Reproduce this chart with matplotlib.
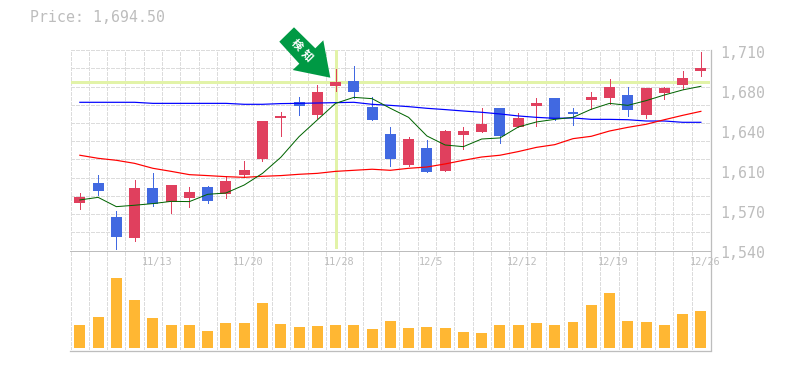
import matplotlib.pyplot as plt
from matplotlib.patches import Polygon, Rectangle

# datos
opens = [1580.2, 1597.2, 1568.3, 1550.5, 1593.0, 1581.1, 1584.5, 1593.8, 1587.9, 1604.0, 1617.6, 1652.5,
         1666.1, 1655.0, 1679.7, 1683.9, 1661.8, 1638.9, 1612.5, 1627.0, 1607.4, 1638.0, 1640.6, 1661.0,
         1644.8, 1662.7, 1669.5, 1657.6, 1667.8, 1669.5, 1672.0, 1655.0, 1673.7, 1680.5, 1692.4]
closes = [1585.3, 1590.4, 1551.3, 1593.0, 1579.4, 1595.5, 1589.6, 1581.9, 1598.9, 1608.3, 1649.9, 1654.2,
          1662.7, 1674.6, 1683.1, 1674.6, 1650.8, 1617.6, 1634.6, 1606.6, 1641.4, 1641.4, 1647.4, 1637.2,
          1652.5, 1665.2, 1651.6, 1655.9, 1670.3, 1678.8, 1659.3, 1678.0, 1678.0, 1686.5, 1695.0]
highs = [1588.7, 1604.0, 1573.4, 1599.8, 1605.7, 1595.5, 1593.8, 1594.7, 1603.2, 1615.9, 1649.9, 1657.6,
         1670.3, 1680.5, 1694.1, 1696.7, 1670.3, 1644.8, 1636.3, 1633.8, 1642.3, 1644.8, 1661.0, 1661.0,
         1656.7, 1669.5, 1669.5, 1661.0, 1674.6, 1685.6, 1678.8, 1678.0, 1678.8, 1692.4, 1708.6]
lows = [1575.1, 1587.0, 1540.0, 1547.9, 1577.7, 1571.7, 1576.8, 1580.2, 1584.5, 1602.3, 1615.9, 1637.2,
        1655.0, 1652.5, 1675.4, 1669.5, 1650.8, 1611.7, 1611.7, 1606.6, 1607.4, 1626.1, 1640.6, 1631.2,
        1644.8, 1645.7, 1650.8, 1646.5, 1660.1, 1664.4, 1654.2, 1652.5, 1668.6, 1677.1, 1688.2]
ma_verde = [1582.8, 1585.0, 1577.1, 1578.3, 1579.7, 1581.6, 1581.4, 1587.6, 1588.7, 1595.5, 1605.4, 1619.0,
            1636.6, 1650.8, 1664.9, 1670.0, 1668.9, 1660.7, 1653.0, 1637.2, 1629.5, 1628.1, 1634.6, 1635.5,
            1644.8, 1649.1, 1651.3, 1653.0, 1659.9, 1664.9, 1663.2, 1667.2, 1672.0, 1676.3, 1679.4]
ma_rojo = [1620.8, 1618.2, 1616.5, 1613.9, 1609.7, 1607.1, 1604.3, 1603.5, 1602.6, 1602.0, 1602.9, 1603.5,
           1604.6, 1605.4, 1607.1, 1608.0, 1608.9, 1608.0, 1609.7, 1610.8, 1613.4, 1616.5, 1619.3, 1620.8,
           1623.9, 1627.5, 1629.8, 1634.9, 1636.9, 1641.4, 1644.5, 1647.1, 1651.0, 1654.7, 1658.1]
ma_azul = [1665.8, 1665.8, 1665.8, 1665.8, 1664.9, 1664.9, 1664.9, 1664.9, 1664.9, 1664.1, 1664.1, 1664.7,
           1664.9, 1665.2, 1665.5, 1665.8, 1664.1, 1663.2, 1662.1, 1660.7, 1659.6, 1658.4, 1657.3, 1655.9,
           1654.2, 1653.0, 1652.2, 1652.5, 1651.3, 1651.3, 1651.0, 1649.9, 1649.9, 1648.8, 1648.8]
volumen = [24, 32, 71, 49, 31, 24, 24, 17, 26, 26, 46, 25, 21, 22, 24, 24, 19, 28,
           20, 21, 20, 16, 15, 23, 24, 26, 23, 27, 44, 56, 28, 27, 24, 35, 38]
etiquetas_x = {4: '11/13', 9: '11/20', 14: '11/28', 19: '12/5', 24: '12/12', 29: '12/19', 34: '12/26'}
etiquetas_y = ['1,710', '1,680', '1,640', '1,610', '1,570', '1,540']
precio_min = 1540
precio_max = 1710
precio_linea = 1682.8
dia_marca = 14

W, H = 785, 370
ROJO = '#e0405e'
AZUL = '#4169e1'
GRIS = '#bdbdbd'
GRID = '#dcdcdc'
PALIDO = '#e2f3a8'
VERDE = '#009944'
fuente = 'DejaVu Sans Mono'
PX = 0.72  # un pixel en puntos
DASH = (0, (4, 2))
n = len(opens)

fig = plt.figure(figsize=(W / 100, H / 100), dpi=100)


def crear_eje(x0, y0, x1, y1):
    # coordenadas en pixeles, y hacia abajo como en la imagen
    eje = fig.add_axes([x0 / W, 1 - y1 / H, (x1 - x0) / W, (y1 - y0) / H])
    eje.set_xlim(-0.5, n - 0.5)
    for s in eje.spines.values():
        s.set_visible(False)
    eje.set_xticks([])
    eje.set_yticks([])
    eje.patch.set_alpha(0)
    return eje


ax = crear_eje(70.7, 50.3, 710, 250.3)
ax.set_ylim(precio_min, precio_max)
axv = crear_eje(70.7, 250.3, 710, 350)
axv.set_ylim(-2, 99.7)

# grilla
for i in range(n):
    for eje in (ax, axv):
        eje.axvline(i - 0.5, color=GRID, lw=PX, ls=DASH, zorder=0, antialiased=False)
paso = (precio_max - precio_min) / 11
for k in range(11):
    ax.axhline(precio_max - k * paso, color=GRID, lw=PX, ls=DASH, zorder=0, antialiased=False)

# lineas de referencia
ax.axhline(precio_linea, color=PALIDO, lw=1.9, zorder=1, antialiased=False)
ax.plot([dia_marca, dia_marca], [precio_min + 2, precio_max], color=PALIDO, lw=1.9, zorder=1,
        solid_capstyle='butt', antialiased=False)

# velas
for i in range(n):
    color = ROJO if closes[i] >= opens[i] else AZUL
    ax.plot([i, i], [lows[i], highs[i]], color=color, lw=PX, zorder=3, solid_capstyle='butt', antialiased=False)
    abajo = min(opens[i], closes[i])
    ax.add_patch(Rectangle((i - 0.3, abajo), 0.6, abs(closes[i] - opens[i]), color=color, lw=0, zorder=3,
                           antialiased=False))

x = list(range(n))
ax.plot(x, ma_azul, color='#0000ff', lw=PX * 1.2, zorder=4)
ax.plot(x, ma_rojo, color='#ff0000', lw=PX * 1.2, zorder=4)
ax.plot(x, ma_verde, color='#006400', lw=PX, zorder=4)

# volumen
axv.bar(x, volumen, width=0.6, color='#ffb733', zorder=3, antialiased=False)

# bordes
fig.add_artist(plt.Line2D([70 / W, 710 / W], [1 - 250.5 / H] * 2, color=GRIS, lw=PX))
fig.add_artist(plt.Line2D([70 / W, 710.5 / W], [1 - 350.5 / H] * 2, color=GRIS, lw=PX * 1.3))
fig.add_artist(plt.Line2D([710.5 / W, 710.5 / W], [1 - 50 / H, 1 - 350 / H], color=GRIS, lw=PX * 1.3))

# textos
fig.text(30 / W, 1 - 18 / H, 'Price: 1,694.50', family=fuente, fontsize=10.7, color=GRIS, va='center')
for k, txt in enumerate(etiquetas_y):
    fig.text(720 / W, 1 - (53 + 40 * k) / H, txt, family=fuente, fontsize=10.7, color=GRIS, va='center')
for i, txt in etiquetas_x.items():
    xp = 70.7 + (i + 0.5) * (710 - 70.7) / n + 4
    fig.text(xp / W, 1 - 262 / H, txt, family=fuente, fontsize=7.4, color=GRIS, ha='center', va='center')

# flecha
pix = [(294, 27.3), (279.3, 41.7), (299.3, 63.7), (292.7, 70), (330.3, 77.7), (323.3, 40.3), (315.3, 48.3)]
fig.add_artist(Polygon([(a / W, 1 - b / H) for a, b in pix], closed=True, color=VERDE, lw=0,
                       transform=fig.transFigure, zorder=5))
for letra, xp, yp in [('検', 296.7, 44.3), ('知', 307, 55.7)]:
    fig.text(xp / W, 1 - yp / H, letra, family=['Noto Sans CJK JP', 'DejaVu Sans'], fontsize=8, color='white',
             fontweight='bold', rotation=-45, rotation_mode='anchor', ha='center', va='center', zorder=6)

fig.savefig('out.png', dpi=100)
